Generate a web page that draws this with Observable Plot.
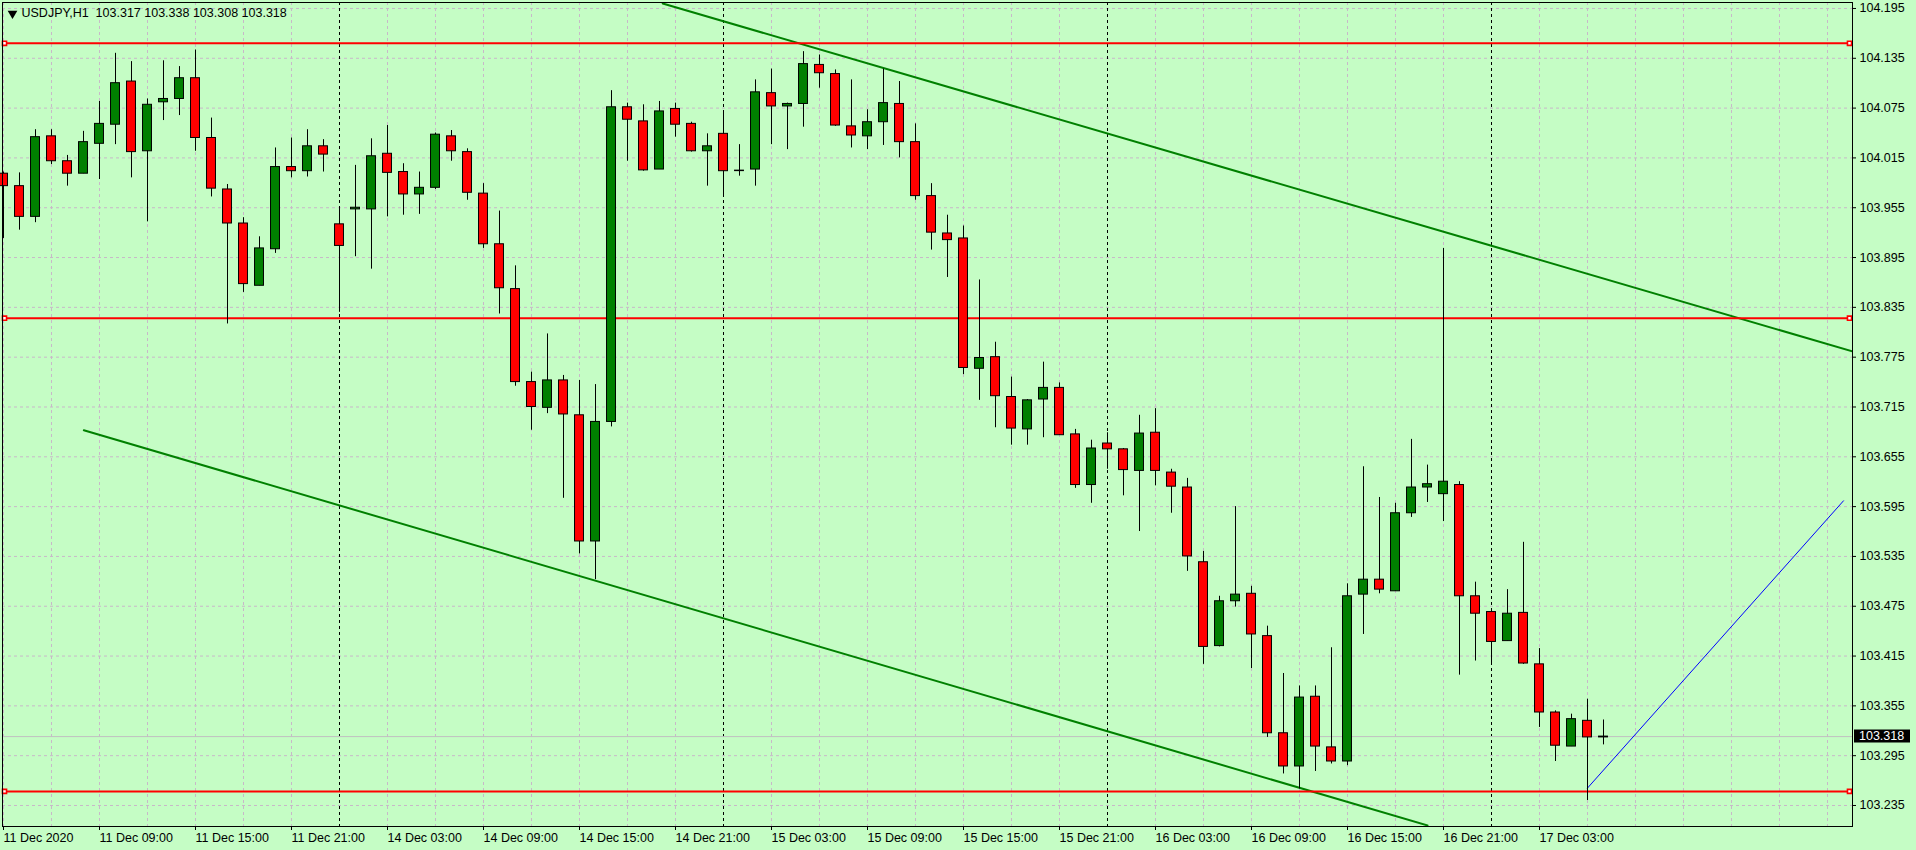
<!DOCTYPE html>
<html>
<head>
<meta charset="utf-8">
<script src="https://cdn.jsdelivr.net/npm/d3@7"></script>
<script src="https://cdn.jsdelivr.net/npm/@observablehq/plot@0.6"></script>
<style>
html, body { margin: 0; padding: 0; background: #c5fdc5; overflow: hidden; }
#chart svg { display: block; }
#chart text { white-space: pre; }
</style>
</head>
<body>
<div id="chart"></div>
<script>
// ---- Data (USDJPY H1) ----
const symbolTitle = "USDJPY,H1";
const opens = [
  103.996,103.981,103.944,104.041,104.011,103.996,104.032,104.055,104.107,104.023,
  104.082,104.086,104.111,104.039,103.977,103.936,103.861,103.905,104.004,103.999,
  104.029,103.935,103.953,103.953,104.020,103.998,103.971,103.979,104.041,104.022,
  103.972,103.911,103.857,103.745,103.714,103.747,103.705,103.553,103.697,104.076,
  104.059,104.001,104.074,104.056,104.023,104.044,104.000,104.001,104.093,104.077,
  104.080,104.127,104.116,104.053,104.041,104.058,104.080,104.034,103.969,103.924,
  103.918,103.761,103.775,103.727,103.688,103.724,103.738,103.682,103.621,103.671,
  103.664,103.638,103.684,103.636,103.618,103.528,103.427,103.481,103.490,103.439,
  103.322,103.282,103.366,103.305,103.288,103.489,103.507,103.493,103.587,103.618,
  103.610,103.621,103.487,103.468,103.433,103.467,103.405,103.347,103.306,103.337,
  103.317
];
const highs = [
  103.998,103.997,104.049,104.049,104.018,104.047,104.083,104.141,104.131,104.086,
  104.132,104.125,104.145,104.063,103.983,103.943,103.920,104.027,104.039,104.049,
  104.037,103.956,104.006,104.038,104.054,104.008,103.998,104.045,104.048,104.026,
  103.984,103.951,103.885,103.757,103.803,103.753,103.747,103.742,104.096,104.081,
  104.079,104.083,104.081,104.058,104.044,104.071,104.031,104.109,104.122,104.081,
  104.143,104.139,104.121,104.109,104.073,104.122,104.107,104.056,103.984,103.946,
  103.933,103.868,103.793,103.751,103.724,103.769,103.744,103.688,103.675,103.684,
  103.665,103.705,103.713,103.640,103.629,103.541,103.487,103.595,103.499,103.451,
  103.394,103.379,103.379,103.425,103.502,103.643,103.606,103.599,103.676,103.645,
  103.906,103.625,103.504,103.468,103.495,103.552,103.424,103.349,103.345,103.363,
  103.338
];
const lows = [
  103.918,103.928,103.937,104.007,103.981,103.996,103.989,104.031,103.991,103.938,
  104.060,104.066,104.023,103.968,103.815,103.853,103.861,103.900,103.991,103.992,
  103.998,103.829,103.896,103.881,103.944,103.946,103.947,103.977,104.011,103.964,
  103.906,103.827,103.740,103.687,103.707,103.605,103.538,103.507,103.691,104.011,
  103.999,104.001,104.040,104.022,103.981,103.968,103.993,103.981,104.031,104.025,
  104.052,104.099,104.053,104.027,104.025,104.030,104.015,103.964,103.904,103.871,
  103.754,103.723,103.690,103.669,103.669,103.678,103.681,103.617,103.599,103.640,
  103.608,103.565,103.620,103.587,103.517,103.405,103.426,103.474,103.400,103.317,
  103.273,103.255,103.276,103.285,103.283,103.441,103.490,103.493,103.582,103.600,
  103.577,103.392,103.409,103.404,103.433,103.405,103.329,103.288,103.306,103.241,
  103.308
];
const closes = [
  103.981,103.944,104.040,104.011,103.996,104.034,104.056,104.105,104.022,104.079,
  104.086,104.111,104.039,103.978,103.936,103.863,103.906,104.004,103.999,104.029,
  104.019,103.909,103.955,104.017,103.997,103.971,103.979,104.043,104.023,103.973,
  103.911,103.858,103.745,103.715,103.747,103.706,103.553,103.697,104.076,104.061,
  104.000,104.071,104.055,104.023,104.029,103.999,104.000,104.094,104.077,104.080,
  104.128,104.117,104.054,104.042,104.058,104.081,104.034,103.969,103.925,103.916,
  103.762,103.774,103.728,103.689,103.723,103.738,103.681,103.621,103.665,103.664,
  103.639,103.683,103.638,103.619,103.535,103.426,103.481,103.489,103.441,103.322,
  103.282,103.365,103.306,103.288,103.487,103.507,103.495,103.587,103.618,103.622,
  103.625,103.487,103.466,103.432,103.466,103.406,103.347,103.307,103.339,103.317,
  103.318
];

// time axis: bar index of each label and its text
const timeTickIndex = [0, 6, 12, 18, 24, 30, 36, 42, 48, 54, 60, 66, 72, 78, 84, 90, 96];
const timeTickLabels = [
  "11 Dec 2020", "11 Dec 09:00", "11 Dec 15:00", "11 Dec 21:00",
  "14 Dec 03:00", "14 Dec 09:00", "14 Dec 15:00", "14 Dec 21:00",
  "15 Dec 03:00", "15 Dec 09:00", "15 Dec 15:00", "15 Dec 21:00",
  "16 Dec 03:00", "16 Dec 09:00", "16 Dec 15:00", "16 Dec 21:00",
  "17 Dec 03:00"
];
const priceTicks = [
  103.235, 103.295, 103.355, 103.415, 103.475, 103.535, 103.595, 103.655, 103.715,
  103.775, 103.835, 103.895, 103.955, 104.015, 104.075, 104.135, 104.195
];
const daySeparators = [21, 45, 69, 93];           // bars at 00:00
const gridBarIndex = [0,3,6,9,12,15,18,24,27,30,33,36,39,42,48,51,54,57,60,63,66,
  72,75,78,81,84,87,90,96,99,102,105,108,111,114];
const levelLines = [104.153, 103.822, 103.252];   // horizontal red lines
const upperTrendBar = [41.2, 115.56];
const upperTrendPrice = [104.201, 103.782];
const lowerTrendBar = [5.02, 89.0];
const lowerTrendPrice = [103.687, 103.211];
const blueLineBar = [99.0, 115.0];
const blueLinePrice = [103.256, 103.602];

// ---- Build tables ----
const candles = opens.map((o, i) => ({i, o, h: highs[i], l: lows[i], c: closes[i]}));
const last = candles[candles.length - 1];
const fmt = d => d.toFixed(3);
const headerText = `${symbolTitle}  ${[last.o, last.h, last.l, last.c].map(fmt).join(" ")}`;
const pts = (xs, ys) => xs.map((x, k) => ({x, y: ys[k]}));
const upperTrend = pts(upperTrendBar, upperTrendPrice);
const lowerTrend = pts(lowerTrendBar, lowerTrendPrice);
const blueLine = pts(blueLineBar, blueLinePrice);

const BG = "#c5fdc5";
const GRID = "#c8b8c8";
const UP = "#008000";
const DOWN = "#ff0000";
const FONT = "'Liberation Sans', Arial, sans-serif";
const W = 1916, H = 850, ML = 2, MR = 64, MT = 2, MB = 24;

const chart = Plot.plot({
  width: W, height: H,
  marginLeft: ML, marginRight: MR, marginTop: MT, marginBottom: MB,
  style: {background: BG, fontFamily: FONT, fontSize: "12.5px", color: "black", overflow: "visible"},
  x: {type: "linear", domain: [-0.0625, 115.5625], axis: null},
  y: {domain: [103.2097, 104.2022], axis: null},
  marks: [
    Plot.gridY(priceTicks, {stroke: GRID, strokeOpacity: 1, strokeDasharray: "3,3"}),
    Plot.gridX(gridBarIndex, {stroke: GRID, strokeOpacity: 1, strokeDasharray: "3,3"}),
    Plot.ruleX(daySeparators, {stroke: "black", strokeDasharray: "3,3"}),
    Plot.ruleY([last.c], {stroke: "#c0c0c0"}),
    Plot.line(upperTrend, {x: "x", y: "y", stroke: UP, strokeWidth: 2, clip: true}),
    Plot.line(lowerTrend, {x: "x", y: "y", stroke: UP, strokeWidth: 2, clip: true}),
    Plot.line(blueLine, {x: "x", y: "y", stroke: "#0000ff", strokeWidth: 1, clip: true}),
    Plot.ruleY(levelLines, {stroke: DOWN, strokeWidth: 2}),
    Plot.dot(levelLines, {y: d => d, frameAnchor: "left", dx: 2, symbol: "square", r: 2.3, fill: "white", stroke: DOWN, strokeWidth: 1.6}),
    Plot.dot(levelLines, {y: d => d, frameAnchor: "right", dx: -3, symbol: "square", r: 2.3, fill: "white", stroke: DOWN, strokeWidth: 1.6}),
    Plot.ruleX(candles, {x: "i", y1: "l", y2: "h", stroke: "black"}),
    Plot.rect(candles.filter(d => d.o !== d.c), {
      x1: d => d.i - 0.28, x2: d => d.i + 0.28, y1: "o", y2: "c",
      fill: d => d.c > d.o ? UP : DOWN, stroke: "black", strokeWidth: 1
    }),
    Plot.ruleY(candles.filter(d => d.o === d.c), {x1: d => d.i - 0.31, x2: d => d.i + 0.31, y: "o", stroke: "black", strokeWidth: 1.5}),
    Plot.frame({stroke: "black"}),
    Plot.axisY(priceTicks, {anchor: "right", tickSize: 3, tickPadding: 4, tickFormat: fmt, fill: "black", stroke: "black"}),
    Plot.axisX(timeTickIndex, {
      anchor: "bottom", tickSize: 4, tickPadding: 3, textAnchor: "start",
      tickFormat: d => timeTickLabels[timeTickIndex.indexOf(d)], fill: "black", stroke: "black"
    }),
    Plot.text([headerText], {frameAnchor: "top-left", dx: 19, dy: 6, lineAnchor: "top", textAnchor: "start", fill: "black"}),
    Plot.dot([headerText], {x: null, y: null, frameAnchor: "top-left", dx: 10, dy: 11, symbol: "triangle", rotate: 180, r: 3.6, fill: "black"})
  ]
});

// current price marker on the price scale
const yPos = chart.scale("y").apply(last.c);
const g = d3.select(chart).append("g");
g.append("rect")
  .attr("x", W - MR + 2).attr("y", Math.round(yPos) - 6.5)
  .attr("width", 56).attr("height", 13).attr("fill", "black");
g.append("text")
  .attr("x", W - MR + 7).attr("y", yPos).attr("dy", "0.35em")
  .attr("text-anchor", "start")
  .attr("fill", "white").attr("font-size", "12.5px")
  .attr("font-family", FONT)
  .text(fmt(last.c));

document.getElementById("chart").appendChild(chart);
</script>
</body>
</html>
